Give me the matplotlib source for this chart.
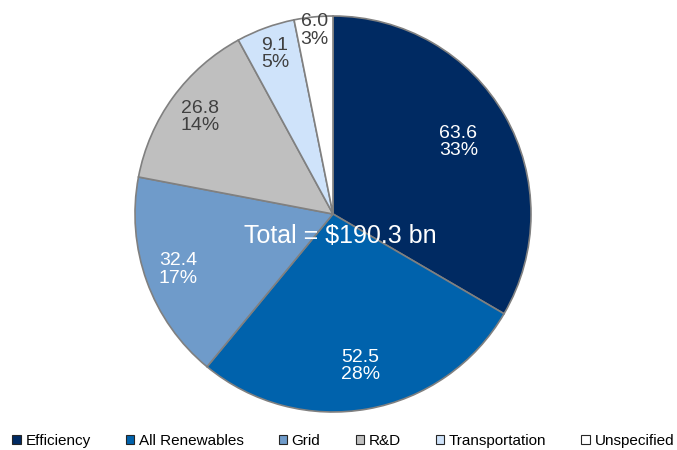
import numpy as np
import matplotlib
matplotlib.use("Agg")
import matplotlib.pyplot as plt
from matplotlib.patches import Patch

plt.rcParams['font.family'] = ['Liberation Sans', 'DejaVu Sans']

categories = ['Efficiency', 'All Renewables', 'Grid', 'R&D', 'Transportation', 'Unspecified']
values = [63.6, 52.5, 32.4, 26.8, 9.1, 6.0]
shares = ['33%', '28%', '17%', '14%', '5%', '3%']
colors = ['#002a62', '#0062ac', '#6f9bca', '#bfbfbf', '#cfe3fa', '#ffffff']
text_colors = ['white', 'white', 'white', '#404040', '#404040', '#404040']
label_r = [0.73, 0.78, 0.83, 0.83, 0.86, 0.93]
total_label = 'Total = $190.3 bn'

fig = plt.figure(figsize=(6.77, 4.5), dpi=100)
cx, cy, r = 333, 214, 198
ax = fig.add_axes([(cx - r) / 677, (450 - cy - r) / 450, 2 * r / 677, 2 * r / 450])

wedges, _ = ax.pie(values, colors=colors, startangle=90, counterclock=False,
                   radius=1.0, wedgeprops=dict(edgecolor='#808080', linewidth=1.2))
ax.set_xlim(-1.0, 1.0)
ax.set_ylim(-1.0, 1.0)
ax.set_aspect('equal')

for w, v, s, tc, lr in zip(wedges, values, shares, text_colors, label_r):
    mid = np.deg2rad((w.theta1 + w.theta2) / 2)
    ax.text(lr * np.cos(mid), lr * np.sin(mid), f'{v:.1f}\n{s}', ha='center', va='center',
            color=tc, fontsize=14, linespacing=1.05)

ax.text(0.035, -0.11, total_label, ha='center', va='center', color='white', fontsize=18)

handles = [Patch(facecolor=c, edgecolor='#262626', linewidth=0.8) for c in colors]
fig.legend(handles, categories, loc='center', bbox_to_anchor=(0.507, 1 - 441 / 450), ncol=6,
           frameon=False, fontsize=11, handlelength=0.55, handleheight=0.55, handletextpad=0.3,
           columnspacing=2.3, borderaxespad=0)

fig.savefig('out.png', dpi=100)
